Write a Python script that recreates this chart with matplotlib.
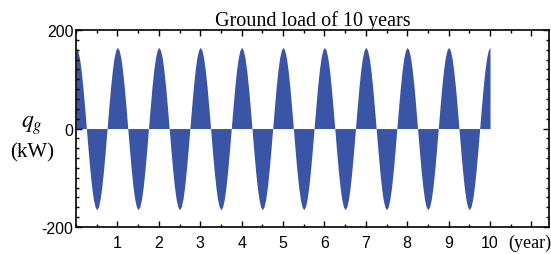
"""
Ground load of 10 years -- filled load profile
"""
import numpy as np
import matplotlib
matplotlib.use("Agg")
import matplotlib.pyplot as plt
from matplotlib.ticker import MultipleLocator

plt.rcParams["mathtext.fontset"] = "stix"

# -------------------------------
# Data
# -------------------------------
# one-year load profile, sampled every half month (kW)
year_profile = [165, 159, 143, 117, 83, 43, 0, -43, -83, -117, -143, -159,
                -165, -159, -143, -117, -83, -43, 0, 43, 83, 117, 143, 159]
n_years = 10
x_ticks = [1, 2, 3, 4, 5, 6, 7, 8, 9, 10, 11]
x_tick_labels = ["1", "2", "3", "4", "5", "6", "7", "8", "9", "10", ""]
y_ticks = [-200, 0, 200]
y_tick_labels = ["-200", "0", "200"]

# repeat the profile for every year, close the last point at year 10
load = list(year_profile) * n_years + [year_profile[0]]
t = np.arange(len(load)) / len(year_profile)

# fine grid so the fill looks dense like hourly data
t_fine = np.linspace(0, n_years, 4000)
load_fine = np.interp(t_fine, t, load)

# -------------------------------
# Plot
# -------------------------------
fig = plt.figure(figsize=(5.51, 2.55), dpi=100)
ax = fig.add_axes([0.138, 0.106, 0.858, 0.772])

ax.fill_between(t_fine, 0, load_fine, color="#3a54a6", linewidth=0)

ax.set_xlim(0, 11.42)
ax.set_ylim(-200, 200)
ax.set_xticks(x_ticks)
ax.set_xticklabels(x_tick_labels, fontfamily="Liberation Sans", fontsize=11.5)
ax.set_yticks(y_ticks)
ax.set_yticklabels(y_tick_labels, fontfamily="Liberation Sans", fontsize=11.5)
ax.xaxis.set_minor_locator(MultipleLocator(0.5))
ax.yaxis.set_minor_locator(MultipleLocator(20))
ax.tick_params(which="both", direction="in", top=True, right=True, width=1)
ax.tick_params(which="major", length=4)
ax.tick_params(axis="x", which="major", pad=6)
ax.tick_params(axis="y", which="major", pad=2)
ax.tick_params(which="minor", length=2.5)
for s in ax.spines.values():
    s.set_linewidth(1.2)

ax.set_title("Ground load of 10 years", fontfamily="Liberation Serif",
             fontsize=14.5, pad=2)

fig.text(0.058, 0.51, r"$q_g$", fontsize=17, ha="center", va="center")
fig.text(0.058, 0.40, "(kW)", fontfamily="Liberation Serif", fontsize=15,
         ha="center", va="center")
fig.text(0.962, 0.045, "(year)", fontfamily="Liberation Serif", fontsize=13,
         ha="center", va="center")

fig.savefig("out.png", dpi=100)
